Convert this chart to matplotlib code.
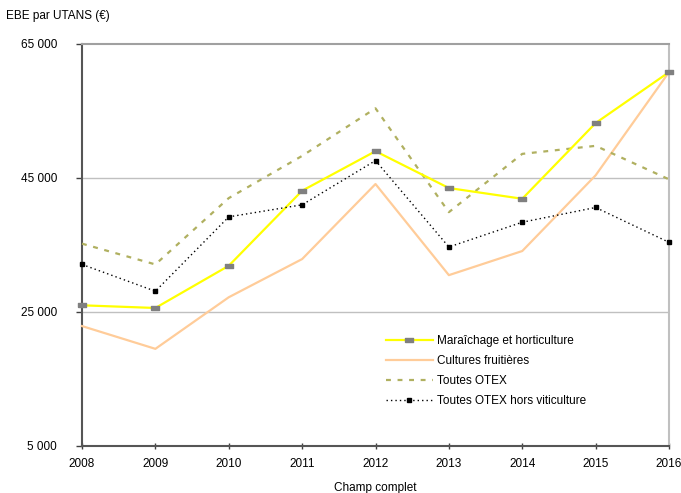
import numpy as np
import matplotlib
matplotlib.use("Agg")
import matplotlib.pyplot as plt
from matplotlib.ticker import FixedLocator, FixedFormatter

plt.rcParams['font.family'] = ['Liberation Sans', 'DejaVu Sans']
plt.rcParams['font.size'] = 8.5

years = [2008, 2009, 2010, 2011, 2012, 2013, 2014, 2015, 2016]
maraichage = [26000, 25600, 31900, 43100, 49000, 43500, 41900, 53200, 60800]
fruits = [22900, 19500, 27200, 32900, 44100, 30500, 34100, 45400, 60800]
otex = [35200, 32100, 42000, 48300, 55400, 39900, 48600, 49800, 44800]
otex_hv = [32100, 28100, 39200, 41000, 47600, 34700, 38400, 40600, 35400]

yticks = [5000, 25000, 45000, 65000]
ytick_labels = ['5 000', '25 000', '45 000', '65 000']

fig = plt.figure(figsize=(6.81, 4.93), dpi=100)
ax = fig.add_axes([82/681, 1-446/493, (669-82)/681, (446-44)/493])

# horizontal grid
for v in [25000, 45000]:
    ax.axhline(v, color='#c0c0c0', lw=1.0, zorder=0)

rect = [(-1, -0.5), (1, -0.5), (1, 0.5), (-1, 0.5), (-1, -0.5)]
ax.plot(years, maraichage, color='#ffff00', lw=1.6, marker=rect, ms=6,
        mfc='#808080', mec='#808080', clip_on=False, zorder=4,
        label='Maraîchage et horticulture')
ax.plot(years, fruits, color='#ffcc99', lw=1.6, clip_on=False, zorder=3,
        label='Cultures fruitières')
ax.plot(years, otex, color='#b0b060', lw=1.6, ls=(0, (2.2, 3)), clip_on=False,
        zorder=3, label='Toutes OTEX')
ax.plot(years, otex_hv, color='black', lw=1.0, ls=(0, (1, 2.2)), marker='s',
        ms=3.5, mfc='black', mec='black', clip_on=False, zorder=5,
        label='Toutes OTEX hors viticulture')

ax.set_xlim(2008, 2016)
ax.set_ylim(5000, 65000)
ax.set_xticks(years)
ax.yaxis.set_major_locator(FixedLocator(yticks))
ax.yaxis.set_major_formatter(FixedFormatter(ytick_labels))
ax.tick_params(axis='y', direction='out', length=4, width=1, color='#404040', pad=14)
ax.tick_params(axis='x', direction='inout', length=5, width=1, color='#404040', pad=6)
for lab in ax.get_yticklabels():
    lab.set_horizontalalignment('right')

ax.spines['left'].set_color('#555555')
ax.spines['left'].set_linewidth(1.5)
ax.spines['bottom'].set_color('#555555')
ax.spines['bottom'].set_linewidth(1.5)
ax.spines['top'].set_color('#a0a0a0')
ax.spines['top'].set_linewidth(1.5)
ax.spines['right'].set_color('#c0c0c0')
ax.spines['right'].set_linewidth(1.5)

ax.set_xlabel('Champ complet', labelpad=9)
fig.text(6/681, 1-16/493, 'EBE par UTANS (€)', ha='left', va='center')

leg = ax.legend(loc='upper left', bbox_to_anchor=(381/681, 1-330/493),
                bbox_transform=fig.transFigure, frameon=False, numpoints=1,
                handlelength=4.0, handletextpad=0.35, labelspacing=0.68,
                borderaxespad=0)

fig.savefig('out.png', dpi=100)
